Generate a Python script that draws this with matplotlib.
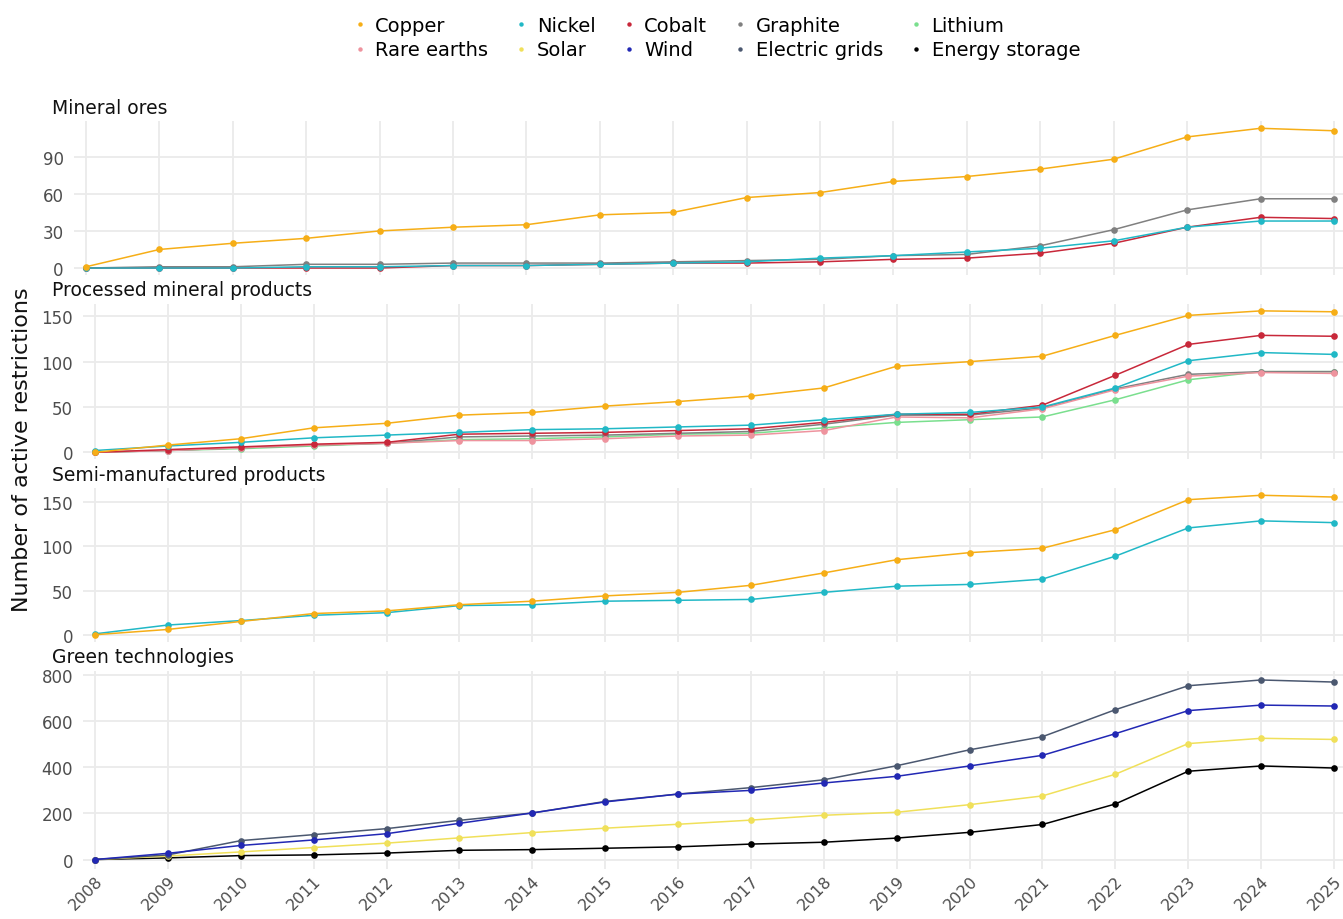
import matplotlib
matplotlib.use("Agg")
import matplotlib.pyplot as plt
from matplotlib.lines import Line2D

plt.rcParams['font.family'] = ['DejaVu Sans']

years = list(range(2008, 2026))

# Mineral ores
ores_copper   = [1, 15, 20, 24, 30, 33, 35, 43, 45, 57, 61, 70, 74, 80, 88, 106, 113, 111]
ores_nickel   = [0, 0, 0, 1, 1, 2, 2, 3, 4, 5, 8, 10, 13, 16, 22, 33, 38, 38]
ores_cobalt   = [0, 0, 0, 0, 0, 2, 2, 3, 4, 4, 5, 7, 8, 12, 20, 33, 41, 40]
ores_graphite = [0, 1, 1, 3, 3, 4, 4, 4, 5, 6, 7, 10, 11, 18, 31, 47, 56, 56]

# Processed mineral products
proc_copper   = [0, 8, 15, 27, 32, 41, 44, 51, 56, 62, 71, 95, 100, 106, 129, 151, 156, 155]
proc_nickel   = [2, 7, 11, 16, 19, 22, 25, 26, 28, 30, 36, 42, 44, 50, 71, 101, 110, 108]
proc_cobalt   = [0, 3, 6, 9, 11, 20, 21, 22, 24, 26, 33, 42, 42, 52, 85, 119, 129, 128]
proc_graphite = [0, 2, 5, 8, 10, 17, 18, 19, 21, 23, 31, 41, 41, 49, 70, 86, 89, 89]
proc_lithium  = [0, 2, 4, 7, 10, 14, 15, 17, 20, 21, 27, 33, 36, 39, 58, 80, 89, 89]
proc_rare     = [0, 2, 5, 8, 10, 13, 13, 15, 18, 19, 24, 39, 38, 48, 69, 84, 88, 87]

# Semi-manufactured products
semi_copper = [0, 6, 15, 24, 27, 34, 38, 44, 48, 56, 70, 85, 93, 98, 119, 153, 158, 156]
semi_nickel = [1, 11, 16, 22, 25, 33, 34, 38, 39, 40, 48, 55, 57, 63, 89, 121, 129, 127]

# Green technologies
green_grids   = [0, 20, 82, 108, 134, 170, 202, 252, 284, 312, 346, 407, 476, 533, 650, 754, 779, 770]
green_wind    = [0, 27, 61, 85, 112, 157, 202, 250, 284, 300, 332, 361, 406, 452, 546, 646, 670, 666]
green_solar   = [0, 15, 33, 52, 71, 94, 117, 136, 153, 171, 192, 205, 238, 276, 370, 503, 526, 521]
green_storage = [0, 7, 17, 20, 28, 40, 43, 49, 55, 67, 75, 93, 118, 152, 241, 383, 406, 397]

colors = {
    'Copper': '#F6AE17',
    'Nickel': '#21B8C6',
    'Cobalt': '#C8283A',
    'Graphite': '#808080',
    'Lithium': '#7ADF8E',
    'Rare earths': '#EE939E',
    'Solar': '#F0E05A',
    'Wind': '#2228B4',
    'Electric grids': '#4B5870',
    'Energy storage': '#000000',
}

# (title, series, y ticks, left px, top px, bottom px)
panels = [
    ('Mineral ores', [('Graphite', ores_graphite), ('Cobalt', ores_cobalt),
                      ('Nickel', ores_nickel), ('Copper', ores_copper)],
     [0, 30, 60, 90], 73.5, 122.3, 276.0),
    ('Processed mineral products', [('Lithium', proc_lithium), ('Graphite', proc_graphite),
                                    ('Rare earths', proc_rare), ('Cobalt', proc_cobalt),
                                    ('Nickel', proc_nickel), ('Copper', proc_copper)],
     [0, 50, 100, 150], 82.6, 304.8, 460.4),
    ('Semi-manufactured products', [('Nickel', semi_nickel), ('Copper', semi_copper)],
     [0, 50, 100, 150], 82.6, 489.3, 642.7),
    ('Green technologies', [('Energy storage', green_storage), ('Solar', green_solar),
                            ('Electric grids', green_grids), ('Wind', green_wind)],
     [0, 200, 400, 600, 800], 82.6, 672.0, 869.5),
]

W, H = 1343, 920
fig = plt.figure(figsize=(W / 100, H / 100), dpi=100)

right_px = 1346.4
for i, (title, series, yt, left_px, top, bot) in enumerate(panels):
    ax = fig.add_axes([left_px / W, 1 - bot / H, (right_px - left_px) / W, (bot - top) / H])
    ymax = 0
    for name, vals in series:
        ax.plot(years, vals, color=colors[name], lw=1.1, marker='o', ms=4.8,
                markeredgewidth=0, zorder=3, clip_on=False)
        ymax = max(ymax, max(vals))
    ax.set_xlim(2008 - 0.17, 2025 + 0.17)
    ax.set_ylim(-0.05 * ymax, ymax * 1.05)
    ax.set_yticks(yt)
    ax.set_xticks(years)
    ax.grid(True, color='#EBEBEB', lw=1.3, zorder=0)
    ax.set_axisbelow(True)
    for s in ax.spines.values():
        s.set_visible(False)
    ax.tick_params(axis='y', length=0, labelsize=12, colors='#4D4D4D', pad=7)
    ax.tick_params(axis='x', length=0, labelsize=11.5, colors='#4D4D4D', pad=3)
    if i < 3:
        ax.set_xticklabels([])
    else:
        ax.set_xticklabels([str(y) for y in years], rotation=45, ha='right',
                           va='top', rotation_mode='anchor')
    fig.text(52 / W, 1 - (top - 14) / H, title, fontsize=13.5, color='#111111',
             ha='left', va='center')

fig.text(22 / W, 1 - 450 / H, 'Number of active restrictions', rotation=90,
         fontsize=16, color='#111111', ha='center', va='center')

legend_order = ['Copper', 'Rare earths', 'Nickel', 'Solar', 'Cobalt', 'Wind',
                'Graphite', 'Electric grids', 'Lithium', 'Energy storage']
handles = [Line2D([], [], color=colors[n], marker='o', ls='none', ms=3.2,
                  markeredgewidth=0) for n in legend_order]
fig.legend(handles, legend_order, loc='upper center', ncol=5,
           bbox_to_anchor=(715 / W, 1 + 1 / H), frameon=False, fontsize=14,
           handletextpad=0.3, columnspacing=1.2, labelspacing=0.3,
           handlelength=1.0)

fig.savefig('out.png', dpi=100)
